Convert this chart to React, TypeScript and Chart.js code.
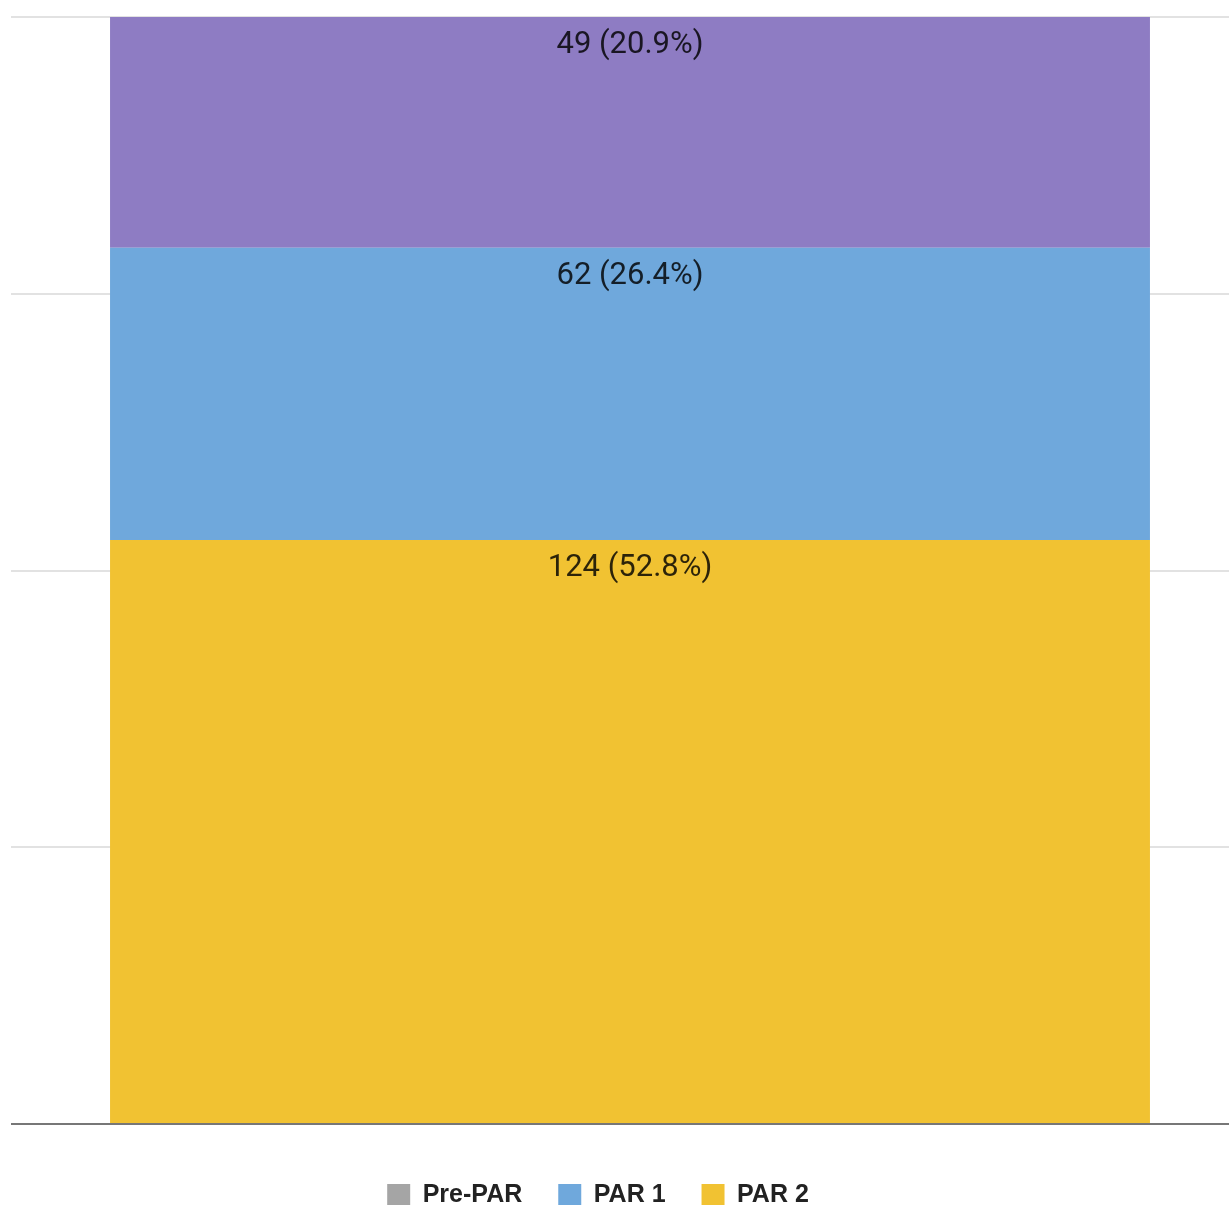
import React, { useEffect, useRef } from "react";
import { Chart, registerables } from "chart.js";

Chart.register(...registerables);

const categories = ["Total"];
const seriesLabels = ["PAR 2", "PAR 1", "PAR 3", "Pre-PAR"];
const seriesCounts = [124, 62, 49, 0];
const seriesColors = ["#f1c232", "#6fa8dc", "#8e7cc3", "#a5a5a5"];
const legendOrder = ["Pre-PAR", "PAR 1", "PAR 2"];
const yTicks = [0, 25, 50, 75, 100];

const total = seriesCounts.reduce((a, b) => a + b, 0);

const labelPlugin = {
  id: "segmentLabels",
  afterDatasetsDraw(chart: any) {
    const ctx = chart.ctx;
    ctx.save();
    ctx.font = "31px Roboto";
    ctx.fillStyle = "rgba(0,0,0,0.82)";
    ctx.textAlign = "center";
    ctx.textBaseline = "middle";
    chart.data.datasets.forEach((ds: any, i: number) => {
      const meta = chart.getDatasetMeta(i);
      const count = seriesCounts[i];
      if (!count) return;
      meta.data.forEach((bar: any) => {
        const pct = ((count / total) * 100).toFixed(1);
        ctx.fillText(`${count} (${pct}%)`, bar.x, bar.y + 28);
      });
    });
    ctx.restore();
  },
};

export default function App() {
  const ref = useRef<HTMLCanvasElement>(null);
  useEffect(() => {
    if (!ref.current) return;
    const chart = new Chart(ref.current, {
      type: "bar",
      data: {
        labels: categories,
        datasets: seriesLabels.map((label, i) => ({
          label,
          data: [(seriesCounts[i] / total) * 100],
          backgroundColor: seriesColors[i],
          borderWidth: 0,
          categoryPercentage: 1,
          barPercentage: 0.84,
        })),
      },
      options: {
        responsive: false,
        animation: false,
        devicePixelRatio: 1,
        layout: { padding: { top: 17, right: 0, bottom: 0, left: 0 } },
        plugins: {
          tooltip: { enabled: false },
          legend: {
            position: "bottom",
            labels: {
              boxWidth: 23,
              boxHeight: 23,
              padding: 36,
              color: "#222",
              font: { family: "'Liberation Sans', Arial, sans-serif", weight: "bold", size: 25 },
              filter: (item: any) => legendOrder.includes(item.text),
              sort: (a: any, b: any) => legendOrder.indexOf(a.text) - legendOrder.indexOf(b.text),
            },
          },
        },
        scales: {
          x: {
            stacked: true,
            display: true,
            ticks: { display: false },
            grid: { display: false },
            border: { display: false },
            afterFit: (scale: any) => {
              scale.height = 23;
            },
          },
          y: {
            stacked: true,
            min: 0,
            max: 100,
            afterBuildTicks: (scale: any) => {
              scale.ticks = yTicks.map((v) => ({ value: v }));
            },
            afterFit: (scale: any) => {
              scale.width = 64;
            },
            ticks: { display: false },
            border: { display: false },
            grid: {
              drawTicks: false,
              color: (c: any) => (c.tick && c.tick.value === 0 ? "#777777" : "#e2e2e2"),
              lineWidth: () => 2,
            },
          },
        },
      },
      plugins: [labelPlugin],
    });
    return () => chart.destroy();
  }, []);

  return (
    <div style={{ position: "fixed", left: 0, top: 0, width: 1229, height: 1205, overflow: "hidden", background: "#fff" }}>
      <div style={{ position: "absolute", left: -53, top: 0, width: 1302, height: 1218 }}>
        <canvas ref={ref} width={1302} height={1218} style={{ display: "block" }} />
      </div>
    </div>
  );
}
